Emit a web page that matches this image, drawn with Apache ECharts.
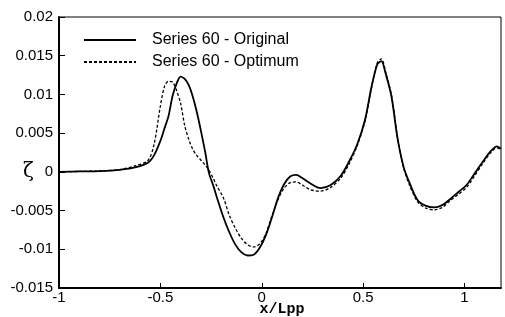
<!DOCTYPE html>
<html>
<head>
<meta charset="utf-8">
<script src="https://cdn.jsdelivr.net/npm/echarts@6/dist/echarts.min.js"></script>
<style>
  html, body { margin: 0; padding: 0; background: #fff; }
  #chart { width: 505px; height: 317px; }
</style>
</head>
<body>
<div id="chart"></div>
<script>
// x/Lpp sample positions shared by both curves
const xs = [-1, -0.9, -0.8, -0.7, -0.62, -0.56, -0.53, -0.5, -0.48, -0.46, -0.44, -0.42, -0.4, -0.38, -0.36,
  -0.34, -0.32, -0.3, -0.28, -0.26, -0.24, -0.22, -0.19, -0.16, -0.13, -0.1, -0.07, -0.04, -0.01, 0.02,
  0.05, 0.08, 0.11, 0.14, 0.17, 0.2, 0.24, 0.29, 0.34, 0.39, 0.43, 0.47, 0.51, 0.54, 0.57, 0.59, 0.61,
  0.64, 0.67, 0.7, 0.73, 0.77, 0.81, 0.85, 0.89, 0.93, 0.97, 1.01, 1.05, 1.09, 1.13, 1.16, 1.18]

const original = [0, 0.00005, 0.0001, 0.00026, 0.0006, 0.0012, 0.0022, 0.004, 0.0056, 0.0072, 0.0098, 0.0114, 0.0123, 0.012, 0.0112,
  0.0097, 0.0077, 0.0053, 0.0027, -0.0002, -0.0017, -0.0034, -0.0058, -0.0078, -0.0094, -0.0104, -0.0108, -0.0107, -0.0098, -0.0082,
  -0.0059, -0.0034, -0.0016, -0.0006, -0.0004, -0.0008, -0.0015, -0.0021, -0.0017, -0.0005, 0.0013, 0.0035, 0.0068, 0.0108, 0.0139, 0.0143, 0.0128,
  0.0097, 0.0043, 0.0006, -0.0015, -0.0037, -0.0044, -0.0046, -0.0043, -0.0035, -0.0026, -0.0017, -0.0002, 0.0013, 0.0027, 0.0033, 0.003]

const optimum = [0, 0.00005, 0.00012, 0.0003, 0.0008, 0.0015, 0.0037, 0.0085, 0.011, 0.0117, 0.0116, 0.0105, 0.0088, 0.006, 0.0042,
  0.0029, 0.0021, 0.0015, 0.0009, 0.0002, -0.0008, -0.0019, -0.0033, -0.0056, -0.0073, -0.0086, -0.0094, -0.0097, -0.0093, -0.008,
  -0.0057, -0.0036, -0.0021, -0.0014, -0.0013, -0.0017, -0.0023, -0.0025, -0.002, -0.0008, 0.001, 0.0033, 0.0066, 0.0107, 0.0141, 0.0146, 0.013,
  0.0099, 0.0044, 0.0005, -0.0018, -0.0039, -0.0047, -0.0049, -0.0046, -0.0037, -0.0029, -0.002, -0.0005, 0.0011, 0.0025, 0.0031, 0.0029]

const xTicks = [-1, -0.5, 0, 0.5, 1]

const chart = echarts.init(document.getElementById('chart'))

const toPairs = ys => xs.map((x, i) => [x, ys[i]])

chart.setOption({
  animation: false,
  backgroundColor: '#fff',
  textStyle: { fontFamily: 'Liberation Sans, Arial, sans-serif', color: '#000' },
  grid: {
    left: 59, right: 4, top: 17, bottom: 29,
    outerBoundsMode: 'none',
    show: true, borderColor: '#000', borderWidth: 1
  },
  legend: {
    orient: 'vertical',
    left: 78,
    top: 27,
    itemWidth: 52,
    itemHeight: 14,
    itemGap: 6,
    itemStyle: { opacity: 0 },
    textStyle: { fontSize: 16, color: '#000', padding: [0, 0, 0, 11], lineHeight: 16 },
    data: ['Series 60 - Original', 'Series 60 - Optimum']
  },
  // y axis symbol, placed level with the 0 tick as in the original figure
  graphic: [{
    type: 'text',
    left: 23,
    top: 162,
    style: { text: 'ζ', font: '20px "DejaVu Serif", serif', fill: '#000' }
  }],
  xAxis: {
    type: 'value',
    min: -1,
    max: 1.18,
    interval: 0.5,
    name: 'x/Lpp',
    nameLocation: 'middle',
    nameGap: 14,
    nameMoveOverlap: false,
    nameTextStyle: { fontFamily: 'Liberation Mono, monospace', fontWeight: 'bold', fontSize: 15, color: '#000', padding: [0, 0, 0, 4] },
    axisLine: { onZero: false, lineStyle: { color: '#000', width: 2 } },
    axisTick: { inside: true, length: 5, lineStyle: { color: '#000' }, customValues: xTicks },
    axisLabel: { fontSize: 15, color: '#000', margin: 2, customValues: xTicks },
    splitLine: { show: false }
  },
  yAxis: {
    type: 'value',
    min: -0.015,
    max: 0.02,
    interval: 0.005,
    axisLine: { onZero: false, lineStyle: { color: '#000', width: 2 } },
    axisTick: { inside: true, length: 6, lineStyle: { color: '#000' } },
    axisLabel: { fontSize: 15, color: '#000', margin: 6 },
    splitLine: { show: false }
  },
  series: [
    {
      name: 'Series 60 - Original',
      type: 'line',
      smooth: 0.3,
      symbol: 'none',
      data: toPairs(original),
      lineStyle: { color: '#000', width: 1.8 },
      itemStyle: { color: '#000' }
    },
    {
      name: 'Series 60 - Optimum',
      type: 'line',
      smooth: 0.3,
      symbol: 'none',
      data: toPairs(optimum),
      lineStyle: { color: '#000', width: 1.3, type: [3, 2] },
      itemStyle: { color: '#000' }
    }
  ]
})
</script>
</body>
</html>
